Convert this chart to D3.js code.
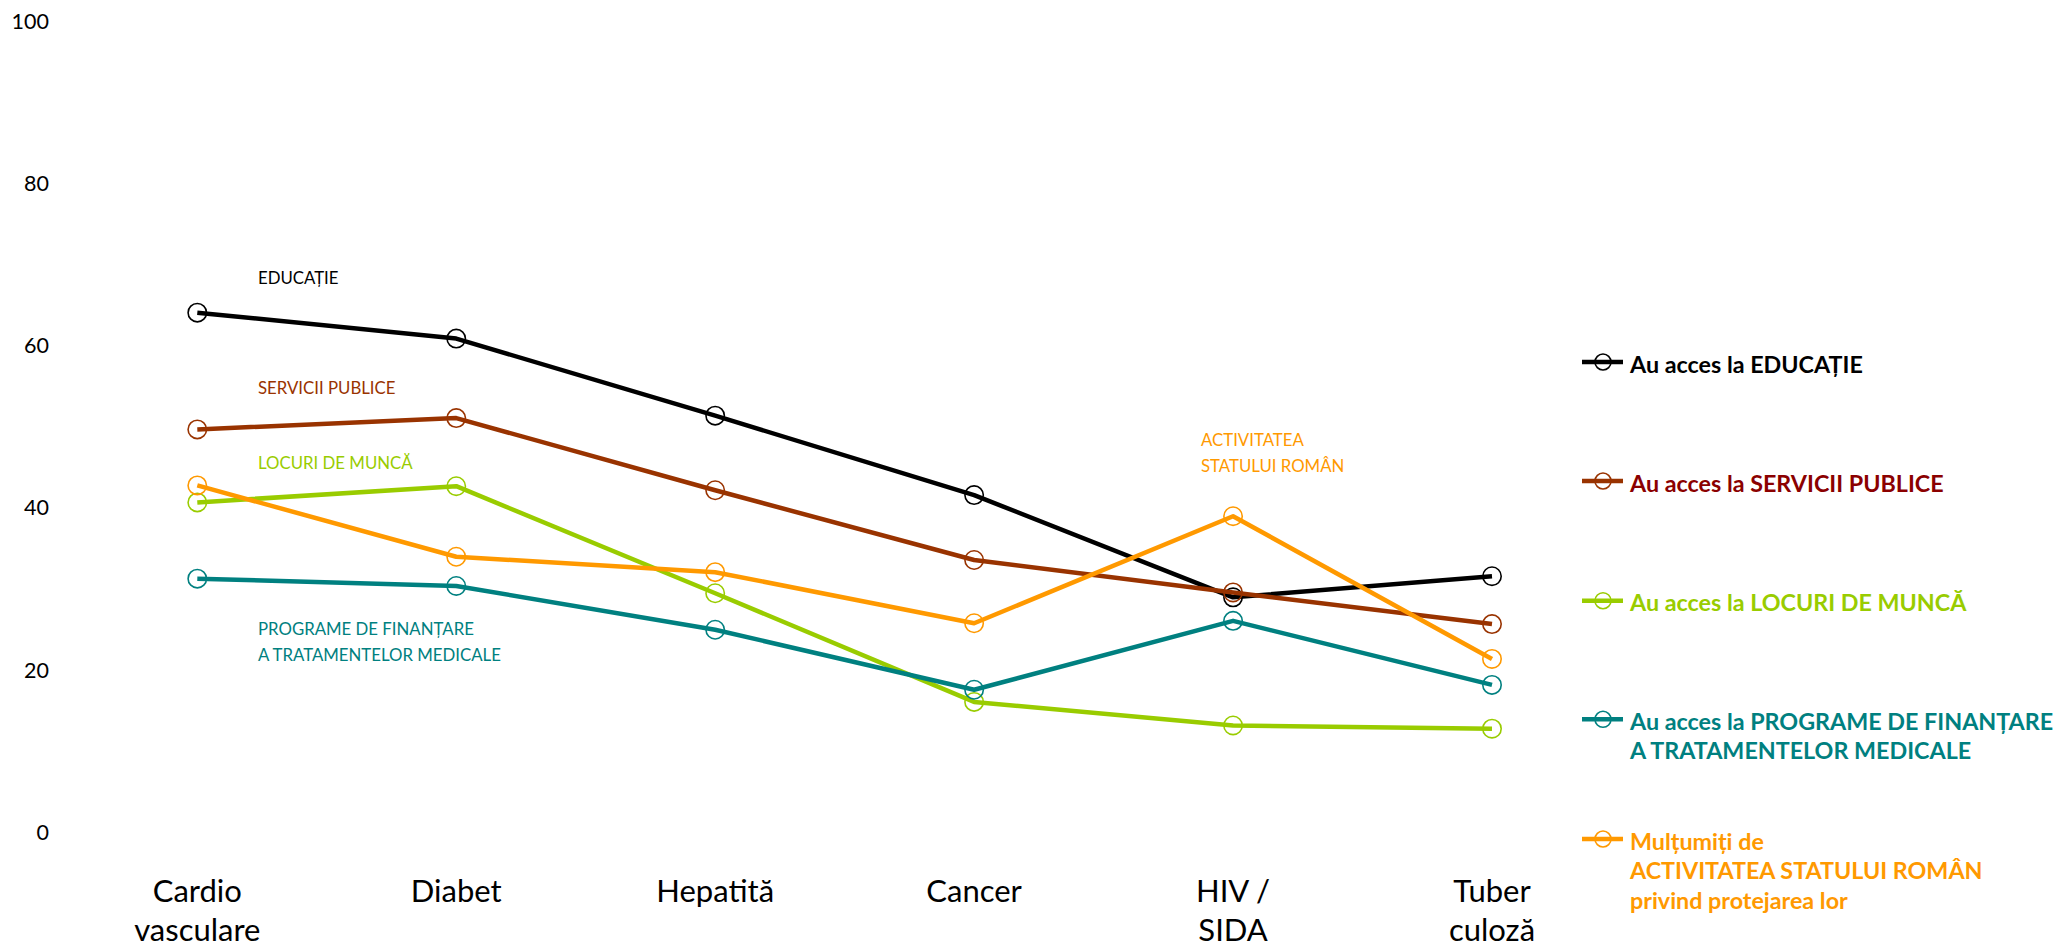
<!DOCTYPE html>
<html>
<head>
<meta charset="utf-8">
<script src="https://cdn.jsdelivr.net/npm/d3@7"></script>
<style>
  html, body { margin: 0; padding: 0; background: #ffffff; }
  svg { display: block; }
  text { font-family: Lato, "Open Sans", sans-serif; }
</style>
</head>
<body>
<svg id="chart" width="2057" height="950"></svg>
<script>
// ---- data ----
const categories = ["Cardio vasculare", "Diabet", "Hepatită", "Cancer", "HIV / SIDA", "Tuberculoză"];
const categoryLabelLines = [["Cardio", "vasculare"], ["Diabet"], ["Hepatită"], ["Cancer"], ["HIV /", "SIDA"], ["Tuber", "culoză"]];
const educatie  = [64.1, 60.9, 51.4, 41.6, 29.0, 31.6];
const servicii  = [49.7, 51.1, 42.2, 33.6, 29.6, 25.7];
const locuri    = [40.7, 42.7, 29.5, 16.1, 13.2, 12.8];
const programe  = [31.3, 30.4, 25.0, 17.6, 26.1, 18.2];
const multumiti = [42.8, 34.0, 32.1, 25.8, 39.0, 21.4];
const yTicks = [0, 20, 40, 60, 80, 100];

const seriesNames = ["educatie", "servicii", "locuri", "programe", "multumiti"];
const seriesValues = [educatie, servicii, locuri, programe, multumiti];
const seriesColors = ["#000000", "#993300", "#99CC00", "#008080", "#FF9900"];
const legendTextColors = ["#000000", "#8B0000", "#99CC00", "#008080", "#FF9900"];
const legendLabels = [
  ["Au acces la EDUCAȚIE"],
  ["Au acces la SERVICII PUBLICE"],
  ["Au acces la LOCURI DE MUNCĂ"],
  ["Au acces la PROGRAME DE FINANȚARE", "A TRATAMENTELOR MEDICALE"],
  ["Mulțumiți de", "ACTIVITATEA STATULUI ROMÂN", "privind protejarea lor"]
];
const inlineLabels = [
  ["EDUCAȚIE"],
  ["SERVICII PUBLICE"],
  ["LOCURI DE MUNCĂ"],
  ["PROGRAME DE FINANȚARE", "A TRATAMENTELOR MEDICALE"],
  ["ACTIVITATEA", "STATULUI ROMÂN"]
];

// ---- layout ----
const svg = d3.select("#chart");
const x = d3.scalePoint().domain(categories).range([197.3, 1492]);
const y = d3.scaleLinear().domain([0, 100]).range([832.5, 21.5]);

// y axis (labels only)
const yAxis = svg.append("g")
  .attr("transform", "translate(52,0)")
  .call(d3.axisLeft(y).tickValues(yTicks).tickSize(0).tickPadding(3).tickFormat(d3.format("d")));
yAxis.select(".domain").remove();
yAxis.selectAll("text")
  .style("font-family", "Lato, sans-serif")
  .style("font-size", "21.5px")
  .attr("fill", "#000");

// x labels
const xl = svg.append("g");
categories.forEach((c, i) => {
  const t = xl.append("text")
    .attr("x", x(c))
    .attr("y", 902)
    .attr("text-anchor", "middle")
    .style("font-size", "31px")
    .attr("fill", "#000");
  categoryLabelLines[i].forEach((ln, j) => {
    t.append("tspan").attr("x", x(c)).attr("dy", j === 0 ? 0 : 39).text(ln);
  });
});

// lines + markers
const line = d3.line().x((d, i) => x(categories[i])).y(d => y(d));
seriesValues.forEach((vals, s) => {
  const g = svg.append("g").attr("class", "series-" + seriesNames[s]);
  g.selectAll("circle").data(vals).join("circle")
    .attr("cx", (d, i) => x(categories[i]))
    .attr("cy", d => y(d))
    .attr("r", 9.2)
    .attr("fill", "none")
    .attr("stroke", seriesColors[s])
    .attr("stroke-width", 1.6);
  g.append("path").datum(vals)
    .attr("d", line)
    .attr("fill", "none")
    .attr("stroke", seriesColors[s])
    .attr("stroke-width", 4.5)
    .attr("stroke-linejoin", "round");
});

// inline labels
const inlinePos = [[258, 284], [258, 394], [258, 469], [258, 635], [1201, 445.7]];
inlineLabels.forEach((lines, s) => {
  const t = svg.append("text")
    .attr("x", inlinePos[s][0]).attr("y", inlinePos[s][1])
    .style("font-size", "16.8px")
    .attr("fill", seriesColors[s]);
  lines.forEach((ln, j) => t.append("tspan").attr("x", inlinePos[s][0]).attr("dy", j === 0 ? 0 : 26).text(ln));
});

// legend
const legendY = [362, 481, 600.7, 719.3, 839];
legendLabels.forEach((lines, s) => {
  const g = svg.append("g").attr("transform", `translate(0,${legendY[s]})`);
  g.append("line").attr("x1", 1582).attr("x2", 1623).attr("y1", 0).attr("y2", 0)
    .attr("stroke", seriesColors[s]).attr("stroke-width", 4.5);
  g.append("circle").attr("cx", 1603).attr("cy", 0).attr("r", 8)
    .attr("fill", "none").attr("stroke", seriesColors[s]).attr("stroke-width", 1.6);
  const t = g.append("text").attr("x", 1630).attr("y", 10.5)
    .style("font-size", "23.3px").style("font-weight", "bold")
    .attr("fill", legendTextColors[s]);
  lines.forEach((ln, j) => t.append("tspan").attr("x", 1630).attr("dy", j === 0 ? 0 : 29.5).text(ln));
});
</script>
</body>
</html>
